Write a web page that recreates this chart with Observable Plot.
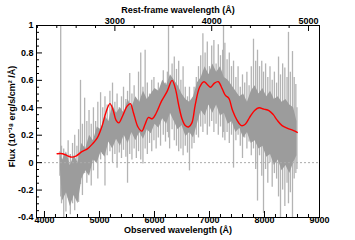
<!DOCTYPE html>
<html><head><meta charset="utf-8">
<script src="https://cdn.jsdelivr.net/npm/d3@7"></script>
<script src="https://cdn.jsdelivr.net/npm/@observablehq/plot@0.6"></script>
<style>
body{margin:0;background:#fff}
svg{font-family:"Liberation Sans",Arial,Helvetica,sans-serif}
</style>
</head><body><div id="chart"></div>
<script>
const Z = 1.76; // 1 + redshift, observed / rest
const specWave = [4280,4295,4310,4350,4390,4430,4470,4510,4550,4590,4620,4655,4690,4730,4770,4810,4850,4890,4930,4970,5020,5060,5100,5140,5190,5237,5280,5320,5360,5400,5437,5480,5510,5550,5590,5630,5670,5710,5750,5790,5830,5870,5910,5950,5990,6030,6070,6110,6160,6200,6235,6255,6275,6320,6360,6400,6440,6480,6520,6560,6600,6636,6680,6720,6760,6800,6840,6880,6920,6960,7000,7040,7080,7120,7160,7200,7240,7255,7280,7320,7360,7400,7437,7480,7520,7560,7600,7640,7680,7720,7760,7800,7840,7873,7910,7950,7982,8020,8060,8100,8140,8180,8220,8255,8291,8330,8370,8410,8436,8470,8509,8540,8570,8590];
const specHi = [0.08,1.00,0.12,0.10,0.04,0.16,0.06,0.14,0.20,0.12,0.24,0.60,0.28,0.47,0.30,0.38,0.28,0.40,0.30,0.44,0.51,0.40,0.48,0.42,0.52,0.58,0.44,0.50,0.40,0.48,0.55,0.46,0.52,0.65,0.50,0.56,0.45,0.66,0.80,0.55,0.82,0.58,0.50,0.60,0.62,0.50,0.58,0.52,0.67,0.58,0.66,1.00,0.62,0.72,0.77,0.68,0.74,0.60,0.70,0.55,0.48,0.55,0.45,0.55,0.62,0.70,0.78,0.94,0.80,0.88,0.70,0.85,0.89,0.72,0.86,0.78,0.82,1.00,0.87,0.75,0.80,0.70,0.74,0.62,0.70,0.55,0.64,0.58,0.66,0.56,0.70,0.90,0.74,0.82,0.70,0.74,0.66,0.72,0.62,0.70,0.60,0.66,0.58,0.77,0.64,0.72,0.69,0.62,0.95,0.66,0.81,0.62,0.57,0.40];
const specLo = [-0.10,-0.25,-0.30,-0.40,-0.36,-0.26,-0.38,-0.30,-0.35,-0.20,-0.29,-0.16,-0.24,-0.08,-0.15,-0.04,-0.17,-0.06,0.00,-0.12,0.02,0.06,-0.17,0.05,0.08,0.00,0.06,-0.04,0.07,0.03,0.09,0.04,-0.15,0.06,0.02,0.10,0.03,0.08,0.02,-0.01,0.10,0.06,0.14,0.08,0.16,0.10,0.18,0.12,0.20,0.15,0.22,0.18,0.10,0.24,0.16,0.12,0.08,0.10,0.05,0.12,0.07,-0.06,0.10,0.14,0.20,0.18,0.26,0.22,0.28,0.20,0.26,0.30,0.22,0.28,0.20,0.26,0.18,0.22,0.16,0.22,0.14,0.20,-0.04,0.16,0.20,0.12,0.03,0.18,0.10,0.15,0.05,0.10,-0.05,-0.28,0.05,-0.10,-0.37,-0.05,-0.15,0.00,-0.18,-0.08,-0.12,-0.25,-0.40,-0.20,-0.32,-0.15,-0.30,-0.22,-0.40,-0.12,-0.08,-0.05];
const coreWave = [4290,4330,4400,4470,4540,4610,4680,4750,4820,4890,4960,5030,5100,5170,5240,5310,5380,5450,5520,5590,5660,5730,5800,5870,5940,6010,6080,6150,6220,6290,6360,6430,6500,6570,6640,6710,6780,6850,6920,6990,7060,7130,7200,7270,7340,7410,7480,7550,7620,7690,7760,7830,7900,7970,8040,8110,8180,8250,8320,8390,8460,8530,8590];
const coreLo = [-0.05,-0.28,-0.22,-0.32,-0.24,-0.30,-0.12,-0.06,-0.10,0.02,0.00,0.08,0.04,0.15,0.10,0.17,0.12,0.20,0.14,0.22,0.16,0.22,0.17,0.24,0.21,0.28,0.25,0.32,0.28,0.36,0.30,0.24,0.27,0.19,0.22,0.18,0.28,0.38,0.34,0.42,0.36,0.42,0.34,0.36,0.28,0.30,0.22,0.25,0.18,0.22,0.14,0.16,0.10,0.12,0.04,0.06,-0.02,0.02,-0.06,-0.02,-0.08,0.00,0.05];
const coreHi = [0.06,0.02,0.08,-0.02,0.05,0.00,0.14,0.10,0.20,0.16,0.26,0.24,0.34,0.30,0.42,0.36,0.40,0.36,0.46,0.40,0.48,0.44,0.52,0.46,0.50,0.54,0.52,0.60,0.56,0.64,0.60,0.56,0.50,0.46,0.44,0.48,0.58,0.62,0.70,0.64,0.72,0.66,0.70,0.62,0.60,0.56,0.52,0.48,0.50,0.44,0.52,0.56,0.50,0.54,0.48,0.52,0.46,0.48,0.44,0.46,0.42,0.40,0.30];
const smoothWave = [4230,4330,4420,4500,4580,4680,4780,4880,4960,5050,5120,5190,5250,5300,5350,5420,5500,5560,5620,5700,5770,5830,5890,5960,6030,6130,6230,6320,6380,6440,6500,6560,6620,6680,6740,6820,6900,6960,7020,7090,7160,7230,7290,7350,7420,7500,7580,7650,7730,7820,7900,7990,8080,8160,8230,8320,8420,8520,8595];
const smoothFlux = [0.065,0.065,0.05,0.04,0.05,0.08,0.10,0.14,0.18,0.27,0.37,0.43,0.38,0.31,0.29,0.34,0.41,0.43,0.36,0.26,0.23,0.28,0.33,0.32,0.36,0.45,0.52,0.60,0.54,0.42,0.32,0.27,0.26,0.29,0.42,0.55,0.59,0.57,0.55,0.58,0.59,0.54,0.49,0.47,0.38,0.31,0.27,0.28,0.33,0.38,0.40,0.39,0.38,0.35,0.31,0.27,0.25,0.235,0.22];
const xTickLabels = [4000,5000,6000,7000,8000,9000];
const xMinorTicks = [4200,4400,4600,4800,5200,5400,5600,5800,6200,6400,6600,6800,7200,7400,7600,7800,8200,8400,8600,8800];
const restTickLabels = [3000,4000,5000];
const restMinorTicks = [2200,2400,2600,2800,3200,3400,3600,3800,4200,4400,4600,4800];
const yTickLabels = [-0.4,-0.2,0,0.2,0.4,0.6,0.8,1];
const yMinorTicks = [-0.35,-0.3,-0.25,-0.15,-0.1,-0.05,0.05,0.1,0.15,0.25,0.3,0.35,0.45,0.5,0.55,0.65,0.7,0.75,0.85,0.9,0.95];

const spec = specWave.map((w,i)=>({w, hi: specHi[i], lo: specLo[i]}));
const core = coreWave.map((w,i)=>({w, hi: coreHi[i], lo: coreLo[i]}));
const smooth = smoothWave.map((w,i)=>({w, f: smoothFlux[i]}));
const X0 = 3855, X1 = 9000, Y0 = -0.4, Y1 = 1;
const pxX = (X1-X0)/283, pxY = (Y1-Y0)/192;
const fs = 9;
const chart = Plot.plot({
  width: 355, height: 240,
  marginLeft: 36, marginRight: 36, marginTop: 25, marginBottom: 23,
  x: {domain: [X0, X1], axis: null},
  y: {domain: [Y0, Y1], axis: null},
  marks: [
    Plot.ruleX(spec, {x: "w", y1: "lo", y2: "hi", stroke: "#b4b4b4", strokeWidth: 1.3}),
    Plot.areaY(core, {x: "w", y1: "lo", y2: "hi", fill: "#9c9c9c", curve: "linear"}),
    Plot.ruleY([0], {stroke: "#aaaaaa", strokeDasharray: "2,2", strokeWidth: 1}),
    Plot.line(smooth, {x: "w", y: "f", stroke: "#ff0000", strokeWidth: 1.4, curve: "catmull-rom"}),
    Plot.frame({stroke: "#000", strokeWidth: 1}),
    // bottom ticks
    Plot.ruleX(xTickLabels, {x: d => d, y1: Y0, y2: Y0 + 6*pxY, stroke: "#000"}),
    Plot.ruleX(xMinorTicks, {x: d => d, y1: Y0, y2: Y0 + 3*pxY, stroke: "#000"}),
    // top ticks (rest frame)
    Plot.ruleX(restTickLabels, {x: d => d*Z, y1: Y1, y2: Y1 - 6*pxY, stroke: "#000"}),
    Plot.ruleX(restMinorTicks, {x: d => d*Z, y1: Y1, y2: Y1 - 3*pxY, stroke: "#000"}),
    // left ticks
    Plot.ruleY(yTickLabels, {y: d => d, x1: X0, x2: X0 + 6*pxX, stroke: "#000"}),
    Plot.ruleY(yMinorTicks, {y: d => d, x1: X0, x2: X0 + 3*pxX, stroke: "#000"}),
    // tick labels
    Plot.text(xTickLabels, {x: d => d, frameAnchor: "bottom", dy: 5, text: d => String(d), fontSize: fs, fontWeight: "bold", fill: "#000"}),
    Plot.text(restTickLabels, {x: d => d*Z, frameAnchor: "top", dy: -8, text: d => String(d), fontSize: fs, fontWeight: "bold", fill: "#000"}),
    Plot.text(yTickLabels, {y: d => d, frameAnchor: "left", dx: -3, textAnchor: "end", text: d => String(d), fontSize: fs, fontWeight: "bold", fill: "#000"}),
    // axis titles
    Plot.text(["Observed wavelength (Å)"], {frameAnchor: "bottom", dy: 15, text: d => d, fontSize: fs, fontWeight: "bold", fill: "#000"}),
    Plot.text(["Rest-frame wavelength (Å)"], {frameAnchor: "top", dy: -19, text: d => d, fontSize: fs, fontWeight: "bold", fill: "#000"}),
    Plot.text(["Flux (10⁻¹⁸ erg/s/cm² /Å)"], {frameAnchor: "left", dx: -24, dy: -5, rotate: -90, textAnchor: "middle", text: d => d, fontSize: fs, fontWeight: "bold", fill: "#000"})
  ]
});
document.getElementById("chart").appendChild(chart);
</script>
</body></html>
